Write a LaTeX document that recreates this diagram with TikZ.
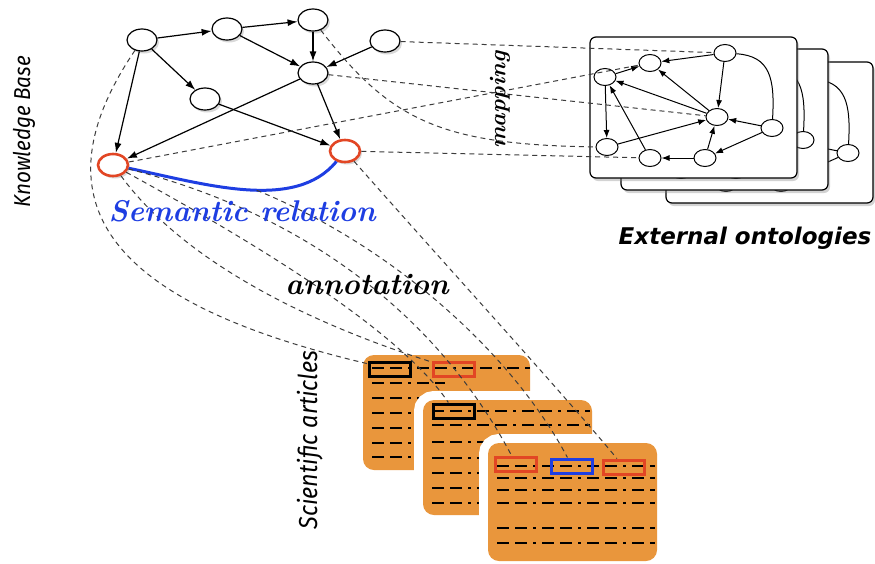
\documentclass[tikz,border=0pt]{standalone}
\usepackage{fontspec}
\usetikzlibrary{arrows,arrows.meta,shapes.geometric,shadows}

\newfontfamily\sidefont[FakeStretch=0.9]{Fira Sans}
\newfontfamily\ontofont{DejaVu Sans}

\definecolor{kbred}{RGB}{226,70,36}
\definecolor{relblue}{RGB}{30,62,226}
\definecolor{paperorange}{RGB}{233,150,60}
\definecolor{linkgray}{RGB}{60,60,60}

\tikzset{
  concept/.style={ellipse, draw, line width=1.2pt, fill=white, minimum width=30pt, minimum height=22pt, inner sep=0pt,
    drop shadow={opacity=0.3, shadow xshift=2pt, shadow yshift=-2.5pt}},
  annotated/.style={concept, draw=kbred, line width=2.6pt},
  isa/.style={-{Latex[length=10pt,width=7pt]}, line width=1.2pt},
  onto/.style={ellipse, draw, line width=1pt, fill=white, minimum width=22pt, minimum height=17pt, inner sep=0pt},
  ontoarc/.style={-{Latex[length=8pt,width=6pt]}, line width=1pt},
  sheet/.style={draw, line width=1.2pt, fill=white, rounded corners=6pt,
    drop shadow={opacity=0.35, shadow xshift=2pt, shadow yshift=-3pt}},
  article/.style={fill=paperorange, rounded corners=11pt, preaction={draw=white, line width=18pt}},
  textrow/.style={line width=2.4pt, dash pattern=on 12pt off 6pt on 12pt off 6pt on 3pt off 6pt},
  citebox/.style={draw=#1, line width=3pt, minimum width=41pt, minimum height=14pt, inner sep=0pt},
  trace/.style={linkgray, line width=1pt, dash pattern=on 5pt off 4pt},
  relation/.style={relblue, line width=3pt},
}

\begin{document}
\begin{tikzpicture}[x=1pt,y=-1pt]
\useasboundingbox (0,0) rectangle (875,563);

% external ontologies, back to front
\foreach \dx/\dy/\c in {76/25/c, 31/12/b, 0/0/a} {
  \begin{scope}[shift={(\dx,\dy)}]
    \draw[sheet] (590,37) rectangle (797,178);
    \node[onto] (\c1) at (650,63) {};
    \node[onto] (\c2) at (605,77) {};
    \node[onto] (\c3) at (725,53) {};
    \node[onto] (\c4) at (717,117) {};
    \node[onto] (\c5) at (772,128) {};
    \node[onto] (\c6) at (607,147) {};
    \node[onto] (\c7) at (650,158) {};
    \node[onto] (\c8) at (705,158) {};
    \draw[ontoarc] (\c3) -- (\c1);
    \draw[ontoarc] (\c2) -- (\c1);
    \draw[ontoarc] (\c3) -- (\c4);
    \draw[ontoarc] (\c4) -- (\c1);
    \draw[ontoarc] (\c4) -- (\c2);
    \draw[ontoarc] (\c2) -- (\c6);
    \draw[ontoarc] (\c6) -- (\c4);
    \draw[ontoarc] (\c7) -- (\c2);
    \draw[ontoarc] (\c8) -- (\c7);
    \draw[ontoarc] (\c8) -- (\c4);
    \draw[ontoarc] (\c5) -- (\c4);
    \draw[ontoarc] (\c5) -- (\c8);
    \draw[line width=1pt] (\c3) .. controls (770,56) and (775,78) .. (\c5);
  \end{scope}
}

% knowledge base
\node[concept] (root) at (142,40) {};
\node[concept] (mid) at (227,29) {};
\node[concept] (peak) at (313,20) {};
\node[concept] (side) at (385,41) {};
\node[concept] (hub) at (313,73) {};
\node[concept] (leaf) at (205,99) {};
\node[annotated] (subj) at (113,165) {};
\node[annotated] (obj) at (345,151) {};

\draw[isa] (root) -- (mid);
\draw[isa] (mid) -- (peak);
\draw[isa] (peak) -- (hub);
\draw[isa] (mid) -- (hub);
\draw[isa] (side) -- (hub);
\draw[isa] (root) -- (leaf);
\draw[isa] (root) -- (subj);
\draw[isa] (hub) -- (subj);
\draw[isa] (hub) -- (obj);
\draw[isa] (leaf) -- (obj);
\draw[relation] (subj) .. controls (205,184) and (295,212) .. (obj) coordinate[pos=0.55] (relmid);

% scientific articles
\path[article] (363,355) rectangle (530,470);
\draw[textrow] (372,368) -- (530,368);
\draw[textrow] (372,383) -- (445,383);
\foreach \y in {398,413,428,443,457}
  \draw[textrow] (372,\y) -- (420,\y);
\node[citebox=black] (cite1) at (390,369) {};
\node[citebox=kbred] (cite2) at (454,369) {};

\path[article] (423,400) rectangle (592,515);
\draw[textrow] (432,411) -- (590,411);
\draw[textrow] (432,425) -- (590,425);
\foreach \y in {442,458,473,488,503}
  \draw[textrow] (432,\y) -- (485,\y);
\node[citebox=black] (cite3) at (454,411) {};

\path[article] (488,443) rectangle (657,561);
\foreach \y in {466,478,490,503,528,543}
  \draw[textrow] (497,\y) -- (655,\y);
\node[citebox=kbred] (cite4) at (516,464) {};
\node[citebox=relblue] (cite5) at (572,466) {};
\node[citebox=kbred] (cite6) at (624,467) {};

% mapping
\draw[trace] (side) -- (a3);
\draw[trace] (subj) -- (a1);
\draw[trace] (hub) -- (a4);
\draw[trace] (peak) .. controls (390,120) and (440,145) .. (a6);
\draw[trace] (obj) -- (a7);

% annotation
\draw[trace] (root) .. controls (20,220) and (140,310) .. (cite1);
\draw[trace] (subj) .. controls (190,270) and (330,330) .. (cite2);
\draw[trace] (subj) .. controls (250,240) and (400,330) .. (cite3);
\draw[trace] (subj) .. controls (310,215) and (440,320) .. (cite4);
\draw[trace] (relmid) .. controls (390,245) and (510,350) .. (cite5);
\draw[trace] (obj) .. controls (450,270) and (560,390) .. (cite6);

% labels
\node[rotate=90, font=\sidefont\itshape\fontsize{23}{26}\selectfont] (kblabel) at (24,132) {Knowledge Base};
\node[rotate=90, font=\sidefont\itshape\fontsize{26}{30}\selectfont] (artlabel) at (310,440) {Scientific articles};
\node[font=\ontofont\bfseries\itshape\fontsize{23}{26}\selectfont] (ontolabel) at (745,238) {External ontologies};
\node[relblue, font=\bfseries\itshape\fontsize{30}{34}\selectfont] (rellabel) at (242,211) {Semantic relation};
\node[font=\bfseries\itshape\fontsize{30}{34}\selectfont] (annlabel) at (367,285) {annotation};
\node[rotate=90, font=\bfseries\itshape\fontsize{23}{28}\selectfont] (maplabel) at (500,100) {mapping};

\end{tikzpicture}
\end{document}
